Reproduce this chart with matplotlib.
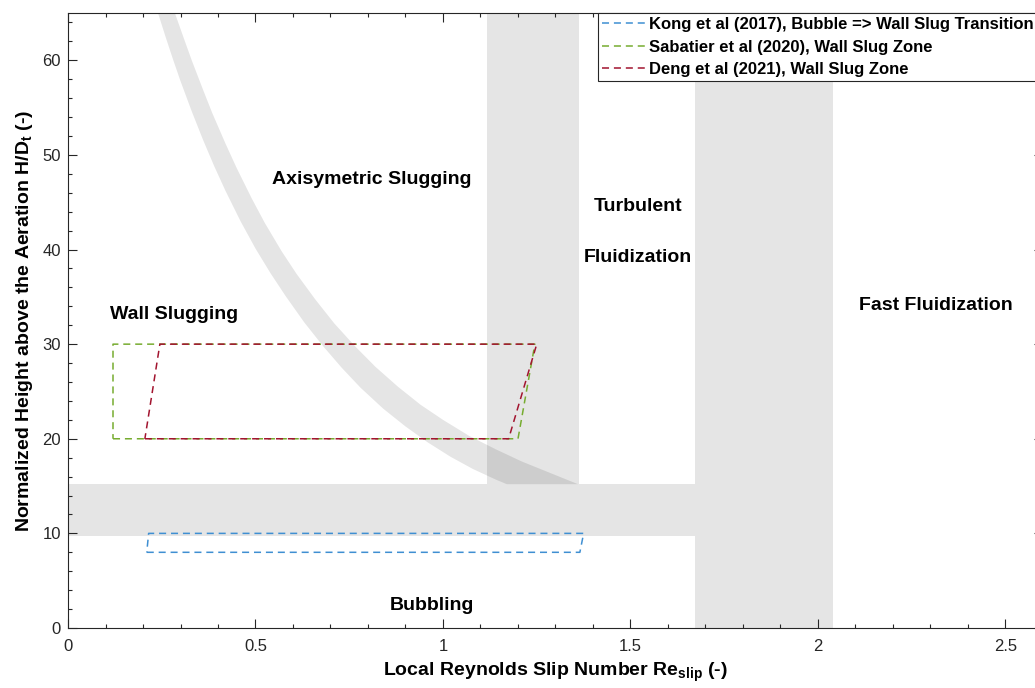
import numpy as np
import matplotlib
matplotlib.use("Agg")
import matplotlib.pyplot as plt
from matplotlib.ticker import MultipleLocator

plt.rcParams["font.family"] = ["Liberation Sans", "DejaVu Sans"]
plt.rcParams["mathtext.fontset"] = "custom"
plt.rcParams["mathtext.rm"] = "Liberation Sans"
plt.rcParams["mathtext.bf"] = "Liberation Sans:bold"
plt.rcParams["mathtext.it"] = "Liberation Sans:italic"

# ---------------- data ----------------
# curved transition band (wall slugging -> axisymmetric slugging)
band_lower_x = [0.24, 0.26, 0.28, 0.30, 0.33, 0.36, 0.39, 0.42, 0.46, 0.50, 0.54,
                0.58, 0.63, 0.68, 0.73, 0.78, 0.84, 0.90, 0.96, 1.02, 1.08, 1.14, 1.17]
band_lower_y = [65.0, 62.5, 60.1, 57.8, 54.6, 51.6, 48.8, 46.2, 43.0, 40.1, 37.5,
                35.1, 32.3, 29.8, 27.5, 25.4, 23.2, 21.3, 19.6, 18.1, 16.8, 15.7, 15.2]
band_upper_x = [0.285, 0.31, 0.33, 0.36, 0.385, 0.42, 0.45, 0.49, 0.525, 0.57, 0.61,
                0.66, 0.71, 0.765, 0.82, 0.88, 0.94, 1.00, 1.07, 1.14, 1.21, 1.285, 1.36]
band_upper_y = [65.0, 62.2, 60.0, 56.9, 54.4, 51.2, 48.6, 45.4, 42.8, 39.8, 37.4,
                34.7, 32.2, 29.8, 27.6, 25.5, 23.6, 22.0, 20.3, 18.9, 17.6, 16.4, 15.2]

# straight transition bands
hband_x = [0.0, 1.672]
hband_y = [9.7, 15.2]
vband_turb_x = [1.117, 1.362]
vband_turb_y = [15.2, 65.0]
vband_fast_x = [1.672, 2.04]
vband_fast_y = [0.0, 65.0]

# literature zones
kong_x = [0.21, 1.365, 1.375, 0.215, 0.21]
kong_y = [8.0, 8.0, 10.0, 10.0, 8.0]
sab_x = [0.12, 1.20, 1.245, 0.12, 0.12]
sab_y = [20.0, 20.0, 30.0, 30.0, 20.0]
deng_x = [0.205, 1.175, 1.25, 0.245, 0.205]
deng_y = [20.0, 20.0, 30.0, 30.0, 20.0]

series_labels = ["Kong et al (2017), Bubble => Wall Slug Transition",
                 "Sabatier et al (2020), Wall Slug Zone",
                 "Deng et al (2021), Wall Slug Zone"]
series_colors = ["#3f8fd2", "#77AC30", "#A2142F"]

region_names = ["Axisymetric Slugging", "Turbulent", "Fluidization",
                "Wall Slugging", "Fast Fluidization", "Bubbling"]
region_x = [0.811, 1.52, 1.519, 0.284, 2.315, 0.971]
region_y = [47.4, 44.5, 39.2, 33.1, 34.1, 2.4]

x_ticks = [0, 0.5, 1, 1.5, 2, 2.5]
x_tick_labels = ["0", "0.5", "1", "1.5", "2", "2.5"]
y_ticks = [0, 10, 20, 30, 40, 50, 60]

# ---------------- figure ----------------
W, H = 1035, 688
fig = plt.figure(figsize=(W / 100, H / 100), dpi=100)
ax = fig.add_axes([68 / W, 60 / H, 975 / W, 615 / H])

gray = dict(color="k", alpha=0.1, linewidth=0)
poly_x = band_lower_x + band_upper_x[::-1]
poly_y = band_lower_y + band_upper_y[::-1]
ax.fill(poly_x, poly_y, **gray)
ax.fill_between(hband_x, hband_y[0], hband_y[1], **gray)
ax.fill_between(vband_turb_x, vband_turb_y[0], vband_turb_y[1], **gray)
ax.fill_between(vband_fast_x, vband_fast_y[0], vband_fast_y[1], **gray)

dash = (0, (4.6, 3.2))
for xs, ys, lab, col in zip([kong_x, sab_x, deng_x], [kong_y, sab_y, deng_y],
                            series_labels, series_colors):
    ax.plot(xs, ys, linestyle=dash, color=col, linewidth=1.1, label=lab)

for name, tx, ty in zip(region_names, region_x, region_y):
    ax.text(tx, ty, name, ha="center", va="center", fontsize=14,
            fontweight="bold", color="black")

ax.set_xlim(0, 2.6)
ax.set_ylim(0, 65)
ax.set_xticks(x_ticks)
ax.set_xticklabels(x_tick_labels)
ax.set_yticks(y_ticks)
ax.xaxis.set_minor_locator(MultipleLocator(0.1))
ax.yaxis.set_minor_locator(MultipleLocator(2))
ax.tick_params(which="both", direction="in", top=True, right=True,
               color="#262626", labelcolor="#262626", width=0.8)
ax.tick_params(which="major", length=6.5, labelsize=12, pad=5)
ax.tick_params(axis="x", which="major", pad=8)
ax.tick_params(which="minor", length=3)
for sp in ax.spines.values():
    sp.set_color("#262626")
    sp.set_linewidth(0.8)

ax.set_xlabel(r"Local Reynolds Slip Number Re$_{\mathbf{slip}}$ (-)",
              fontsize=14, fontweight="bold", labelpad=5)
ax.set_ylabel(r"Normalized Height above the Aeration H/D$_{\mathbf{t}}$ (-)",
              fontsize=14, fontweight="bold", labelpad=5)

leg = ax.legend(loc="upper right", bbox_to_anchor=(1 - 5 / 975, 1), borderaxespad=0,
                fancybox=False, edgecolor="#262626", framealpha=1,
                prop={"family": "Liberation Sans", "weight": "bold", "size": 12},
                handlelength=2.6, handletextpad=0.25, labelspacing=0.45,
                borderpad=0.25)
leg.get_frame().set_linewidth(0.8)

fig.savefig("out.png", dpi=100)
